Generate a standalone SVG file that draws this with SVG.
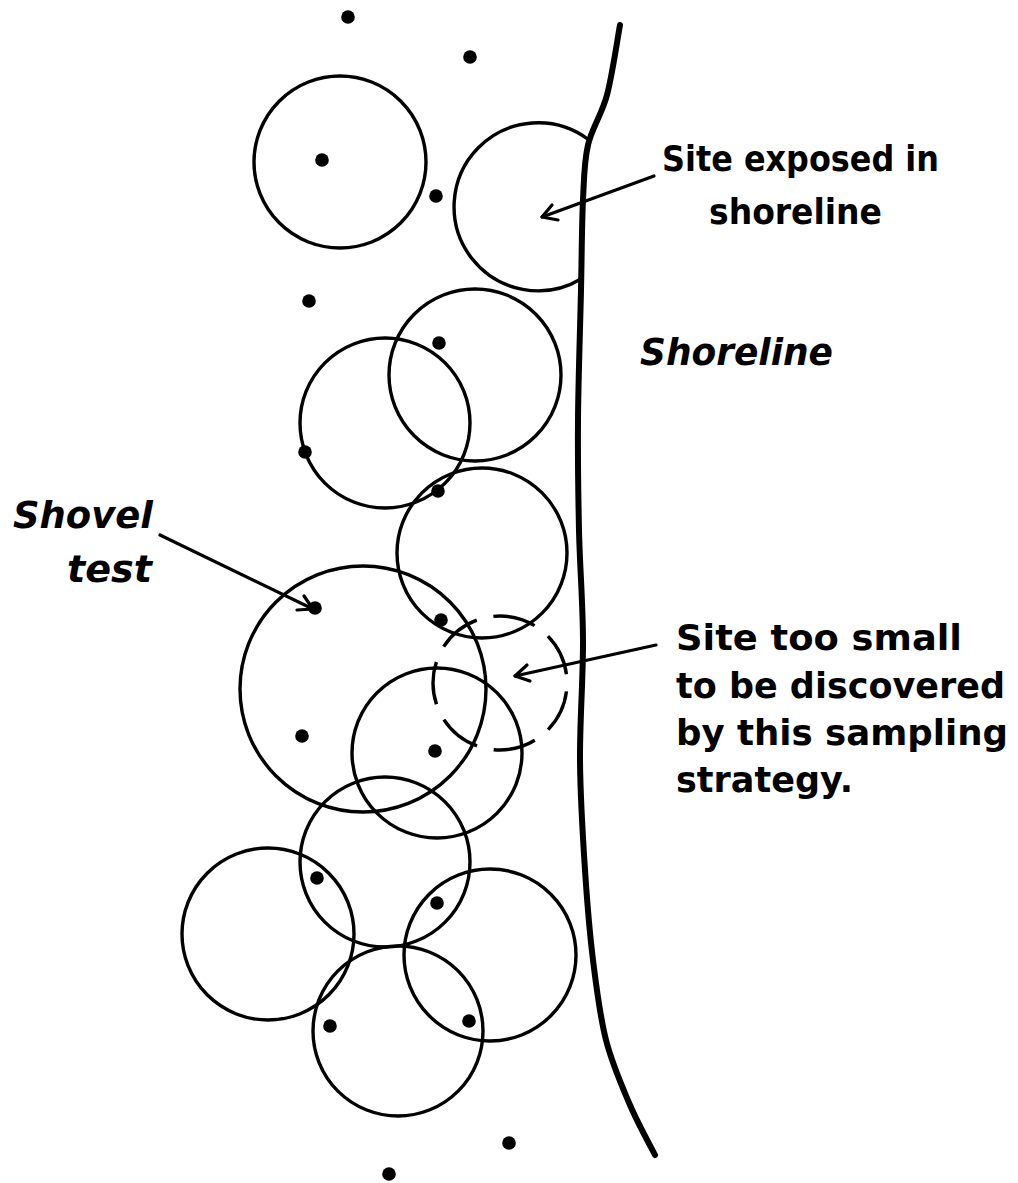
<svg xmlns="http://www.w3.org/2000/svg" width="1018" height="1183" viewBox="0 0 1018 1183">
  <style>
    .test { fill: none; stroke: #000; stroke-width: 3.4; }
    .site { fill: none; stroke: #000; stroke-width: 3.4; stroke-dasharray: 43 17; stroke-dashoffset: 51.5; }
    .shore { fill: none; stroke: #000; stroke-width: 6; stroke-linejoin: round; stroke-linecap: round; }
    .dot { fill: #000; }
    .lead { fill: none; stroke: #000; stroke-width: 3.2; stroke-linecap: round; stroke-linejoin: round; }
    .lbl { font-family: "DejaVu Sans", "Liberation Sans", sans-serif; font-weight: bold; font-size: 36px; fill: #000; }
    .ital { font-family: "DejaVu Sans", "Liberation Sans", sans-serif; font-weight: bold; font-style: italic; font-size: 38px; fill: #000; }
  </style>

  <rect width="1018" height="1183" fill="#fff"/>

  <!-- shoreline -->
  <g id="shoreline">
    <path class="shore" d="M620,25 C617.8,36.7 612.3,75 607,95 C601.7,115 592,127.5 588,145 C584,162.5 584.2,175.8 583,200 C581.8,224.2 581.8,253.3 581,290 C580.2,326.7 578.3,380 578,420 C577.7,460 578.2,493.3 579,530 C579.8,566.7 582.8,601.7 583,640 C583.2,678.3 579.7,721.7 580,760 C580.3,798.3 582.8,836.7 585,870 C587.2,903.3 589.5,931.7 593,960 C596.5,988.3 599.8,1015.8 606,1040 C612.2,1064.2 621.8,1085.8 630,1105 C638.2,1124.2 650.8,1146.7 655,1155"/>
  </g>

  <!-- shovel test coverage circles -->
  <g id="coverage">
    <circle class="test" cx="340" cy="162" r="86"/>
    <path id="exposed-site" class="test" d="M589,140 A84,84 0 1 0 581,279"/>
    <circle class="test" cx="475" cy="375" r="86"/>
    <circle class="test" cx="385" cy="423" r="85"/>
    <circle class="test" cx="482" cy="553" r="85"/>
    <circle class="test" cx="363" cy="689" r="123"/>
    <circle class="test" cx="437" cy="753" r="85"/>
    <circle id="small-site" class="site" cx="500" cy="683" r="67"/>
    <circle class="test" cx="385" cy="862" r="85"/>
    <circle class="test" cx="268" cy="934" r="86"/>
    <circle class="test" cx="490" cy="955" r="86"/>
    <circle class="test" cx="398" cy="1031" r="85"/>
  </g>

  <!-- shovel test points -->
  <g id="shovel-tests">
    <circle class="dot" cx="348" cy="17" r="6.8"/>
    <circle class="dot" cx="470" cy="57" r="6.8"/>
    <circle class="dot" cx="322" cy="160" r="6.8"/>
    <circle class="dot" cx="436" cy="196" r="6.8"/>
    <circle class="dot" cx="309" cy="301" r="6.8"/>
    <circle class="dot" cx="439" cy="343" r="6.8"/>
    <circle class="dot" cx="305" cy="452" r="6.8"/>
    <circle class="dot" cx="438" cy="491" r="6.8"/>
    <circle class="dot" cx="315" cy="608" r="6.8"/>
    <circle class="dot" cx="441" cy="620" r="6.8"/>
    <circle class="dot" cx="302" cy="736" r="6.8"/>
    <circle class="dot" cx="435" cy="751" r="6.8"/>
    <circle class="dot" cx="317" cy="878" r="6.8"/>
    <circle class="dot" cx="437" cy="903" r="6.8"/>
    <circle class="dot" cx="330" cy="1026" r="6.8"/>
    <circle class="dot" cx="469" cy="1021" r="6.8"/>
    <circle class="dot" cx="509" cy="1143" r="6.8"/>
    <circle class="dot" cx="389" cy="1174" r="6.8"/>
  </g>

  <!-- leader lines -->
  <g id="connectors">
    <line class="lead" x1="654" y1="176" x2="542" y2="217"/>
    <polyline class="lead" points="552,205 542,217 558,220"/>
    <line class="lead" x1="656" y1="645" x2="515" y2="676"/>
    <polyline class="lead" points="527,665 515,676 530,681"/>
    <line class="lead" x1="160" y1="535" x2="313" y2="609"/>
    <polyline class="lead" points="304,596 313,609 297,610"/>
  </g>

  <!-- labels -->
  <g id="label-exposed">
    <text class="lbl" x="662" y="171" textLength="277" lengthAdjust="spacingAndGlyphs">Site exposed in</text>
    <text class="lbl" x="709" y="224" textLength="173" lengthAdjust="spacingAndGlyphs">shoreline</text>
  </g>
  <g id="label-shoreline">
    <text class="ital" x="640" y="365" textLength="193" lengthAdjust="spacingAndGlyphs">Shoreline</text>
  </g>
  <g id="label-shovel">
    <text class="ital" x="13" y="528" textLength="140" lengthAdjust="spacingAndGlyphs">Shovel</text>
    <text class="ital" x="67" y="582" textLength="85" lengthAdjust="spacingAndGlyphs">test</text>
  </g>
  <g id="label-small">
    <text class="lbl" x="676" y="650" textLength="286" lengthAdjust="spacingAndGlyphs">Site too small</text>
    <text class="lbl" x="676" y="698" textLength="329" lengthAdjust="spacingAndGlyphs">to be discovered</text>
    <text class="lbl" x="676" y="745" textLength="332" lengthAdjust="spacingAndGlyphs">by this sampling</text>
    <text class="lbl" x="676" y="792" textLength="177" lengthAdjust="spacingAndGlyphs">strategy.</text>
  </g>
</svg>
